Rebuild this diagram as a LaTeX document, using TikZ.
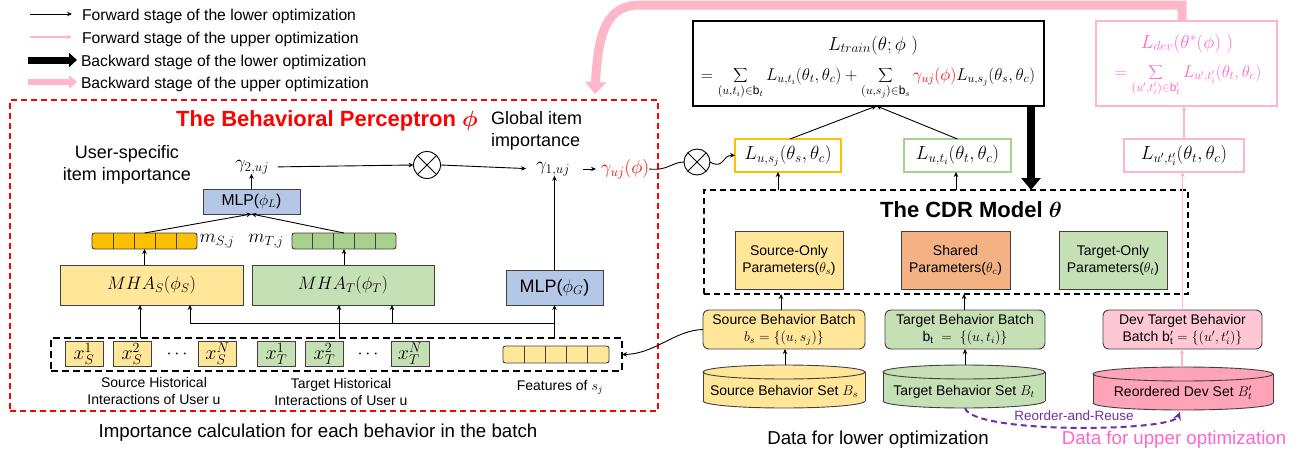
\RequirePackage{fix-cm}
\documentclass[tikz,border=0pt]{standalone}
\usepackage{fontspec}
\setmainfont{Liberation Sans}
\usetikzlibrary{arrows.meta,calc}
\definecolor{redc}{HTML}{FF0000}
\definecolor{gold}{HTML}{FFC000}
\definecolor{lyel}{HTML}{FFE699}
\definecolor{gbar}{HTML}{A9D18E}
\definecolor{lgrn}{HTML}{C5E0B4}
\definecolor{lblu}{HTML}{B4C7E7}
\definecolor{orng}{HTML}{F4B183}
\definecolor{pline}{HTML}{FFB6C8}
\definecolor{pfill}{HTML}{FFC7D4}
\definecolor{pcyl}{HTML}{FFA3B8}
\definecolor{ptext}{HTML}{FF66CC}
\definecolor{purp}{HTML}{7030A0}
\newcommand\mycyl[5]{%
  \pgfmathsetmacro\cx{(#1+#2)/2}\pgfmathsetmacro\rx{(#2-#1)/2}%
  \fill[#5] (#1,#3+7) rectangle (#2,#4-7);
  \fill[#5] (\cx,#4-7) ellipse [x radius=\rx pt, y radius=7pt];
  \begin{scope}\clip (#1-3,#4-7) rectangle (#2+3,#4+3);
    \draw[cylline] (\cx,#4-7) ellipse [x radius=\rx pt, y radius=7pt];
  \end{scope}
  \draw[cylline] (#1,#3+7) -- (#1,#4-7) (#2,#3+7) -- (#2,#4-7);
  \filldraw[fill=#5, cylline] (\cx,#3+7) ellipse [x radius=\rx pt, y radius=7pt];
}
\begin{document}
\begin{tikzpicture}[x=1pt,y=-1pt,
  every node/.style={inner sep=0pt, outer sep=0pt},
  fs13/.style={font=\fontsize{13.5}{15}\selectfont},
  fs14/.style={font=\fontsize{14}{17}\selectfont},
  fs15/.style={font=\fontsize{15.7}{18}\selectfont},
  fs17/.style={font=\fontsize{17}{20}\selectfont},
  fs18/.style={font=\fontsize{18}{22}\selectfont},
  fs185/.style={font=\fontsize{18.7}{22}\selectfont},
  fs19/.style={font=\fontsize{19}{22}\selectfont},
  ttl/.style={font=\fontsize{22}{26}\selectfont\bfseries},
  box/.style={draw=black!75, line width=0.9pt},
  cylline/.style={draw=black!75, line width=0.9pt},
  arr/.style={-{Stealth[length=5pt,width=4.5pt]}, line width=0.9pt},
  parr/.style={-{Stealth[length=5pt,width=4.5pt]}, line width=1.1pt, draw=pline},
  item/.style={box, minimum width=38pt, minimum height=25pt, font=\fontsize{20}{22}\selectfont},
  cellbar/.style={draw=black!75, line width=0.9pt, rounded corners=2.5pt},
]
\useasboundingbox (0,0) rectangle (1307,455);

% ---------------- legend ----------------
\coordinate (lg1a) at (30,14); \coordinate (lg1b) at (72,14);
\coordinate (lg2a) at (30,37); \coordinate (lg2b) at (72,37);
\coordinate (lg3a) at (28,60); \coordinate (lg3b) at (77,60);
\coordinate (lg4a) at (28,82); \coordinate (lg4b) at (77,82);
\draw[arr] (lg1a) -- (lg1b);
\draw[parr] (lg2a) -- (lg2b);
\draw[line width=7pt, -{Triangle[length=8pt,width=14pt]}] (lg3a) -- (lg3b);
\draw[line width=6pt, pline, -{Triangle[length=8pt,width=13pt]}] (lg4a) -- (lg4b);
\node[fs15, anchor=west] (lt1) at (82,16) {Forward stage of the lower optimization};
\node[fs15, anchor=west] (lt2) at (82,39) {Forward stage of the upper optimization};
\node[fs15, anchor=west] (lt3) at (81,62) {Backward stage of the lower optimization};
\node[fs15, anchor=west] (lt4) at (81,84) {Backward stage of the upper optimization};

% ---------------- behavioral perceptron ----------------
\node[draw=redc, line width=1.5pt, dash pattern=on 6pt off 4pt, minimum width=648pt, minimum height=311pt] (pbox) at (334,255.5) {};
\node[ttl, text=redc] (ptitle) at (327,121) {The Behavioral Perceptron {\boldmath$\phi$}};
\node[fs18, align=center] (usr) at (127,165) {User-specific\\item importance};
\node[fs18, align=left, anchor=west] (glob) at (491,131) {Global item\\importance};

\node[fs19] (g2) at (252,167) {$\gamma_{2,uj}$};
\node[circle, draw, line width=0.9pt, minimum size=27pt] (ot1) at (427,165) {};
\draw[line width=0.9pt] (ot1.north west) -- (ot1.south east) (ot1.north east) -- (ot1.south west);
\node[fs19] (g1) at (553,169) {$\gamma_{1,uj}$};
\node[fs19, text=redc] (guj) at (625,169) {$\gamma_{uj}(\phi)$};

\node[box, fill=lblu, minimum width=97pt, minimum height=25pt, fs15] (mlpl) at (251.5,201.5) {MLP($\phi_L$)};
\node[cellbar, fill=gold, minimum width=105pt, minimum height=16pt] (msbar) at (144.5,241) {};
\node[cellbar, fill=gbar, minimum width=104pt, minimum height=16pt] (mtbar) at (344,241) {};
\foreach \b in {msbar,mtbar}{
  \foreach \i in {1,...,4}{
    \draw[line width=0.9pt, black!75] ($(\b.north west)!\i/5!(\b.north east)$) -- ($(\b.south west)!\i/5!(\b.south east)$);
  }
}
\node[fs19] (msl) at (217,241) {$m_{S,j}$};
\node[fs19] (mtl) at (266,241) {$m_{T,j}$};

\node[box, fill=lyel, minimum width=183pt, minimum height=40pt, fs18] (mhas) at (151.5,285) {$MHA_S(\phi_S)$};
\node[box, fill=lgrn, minimum width=182pt, minimum height=40pt, fs18] (mhat) at (343,285) {$MHA_T(\phi_T)$};
\node[box, fill=lblu, minimum width=97pt, minimum height=35pt, fs18] (mlpg) at (554.5,287.5) {MLP($\phi_G$)};

% input
\node[draw, line width=1.5pt, dash pattern=on 7pt off 4pt, minimum width=571pt, minimum height=33pt] (inbox) at (336.5,354.5) {};
\node[item, fill=lyel] (xs1) at (84,354) {$x_S^1$};
\node[item, fill=lyel] (xs2) at (132,354) {$x_S^2$};
\node[fs18] (dots1) at (177,354) {$\cdots$};
\node[item, fill=lyel] (xsn) at (217.5,354) {$x_S^N$};
\node[item, fill=lgrn] (xt1) at (276.5,354) {$x_T^1$};
\node[item, fill=lgrn] (xt2) at (324.5,354) {$x_T^2$};
\node[fs18] (dots2) at (368,354) {$\cdots$};
\node[item, fill=lgrn] (xtn) at (410,354) {$x_T^N$};
\node[cellbar, fill=lyel, minimum width=106pt, minimum height=17pt] (feat) at (556,354.5) {};
\foreach \i in {1,...,4}{
  \draw[line width=0.9pt, black!75] ($(feat.north west)!\i/5!(feat.north east)$) -- ($(feat.south west)!\i/5!(feat.south east)$);
}
\node[fs14, align=center] (srclab) at (154,391) {Source Historical\\Interactions of User u};
\node[fs14, align=center] (tgtlab) at (341,392) {Target Historical\\Interactions of User u};
\node[fs14] (featlab) at (560,387) {Features of $s_j$};
\node[fs185] (imp) at (318,433) {Importance calculation for each behavior in the batch};

% left connectors
\draw[arr] (mlpl.north) -- (mlpl.north |- g2.south);
\draw[arr, shorten <=9pt] (g2.east) -- (ot1.west);
\draw[arr, shorten >=10pt] (ot1.east) -- (g1.west);
\draw[arr, shorten <=13pt, shorten >=5pt] (g1.east) -- (guj.west);
\draw[arr] (mlpg.north) -- (mlpg.north |- g1.south);
\draw[arr] (msbar.north) -- (mlpl.south);
\draw[arr] (mtbar.north) -- (mlpl.south);
\draw[arr] (msbar.south |- mhas.north) -- (msbar.south);
\draw[arr] (mtbar.south |- mhat.north) -- (mtbar.south);
\draw[arr] (140,0 |- inbox.north) -- (140,0 |- mhas.south);
\draw[arr] (339,0 |- inbox.north) -- (339,0 |- mhat.south);
\draw[arr] (inbox.north -| mlpg.south) -- (mlpg.south);
\coordinate (hl) at (190,323);
\coordinate (hr) at (392,323);
\draw[line width=0.9pt] (hl) -- (hl -| mlpg.south);
\draw[arr] (hl) -- (hl |- mhas.south);
\draw[arr] (hr) -- (hr |- mhat.south);

% ---------------- right side ----------------
\node[draw, line width=1.3pt, minimum width=351pt, minimum height=85pt] (ltrain) at (868.5,63.5) {};
\node[fs19, anchor=base] (lt1f) at (873,50) {$L_{train}(\theta;\phi\ )$};
\node[fs17, anchor=base] (lt2f) at (868,80) {$\displaystyle =\sum_{(u,t_i)\in \mathrm{b}_t} L_{u,t_i}(\theta_t,\theta_c)+\sum_{(u,s_j)\in \mathrm{b}_s}\textcolor{redc}{\gamma_{uj}(\phi)}L_{u,s_j}(\theta_s,\theta_c)$};

\node[draw=pline, line width=1.3pt, minimum width=181pt, minimum height=85pt] (ldev) at (1186.5,63.5) {};
\node[fs19, anchor=base, text=ptext] (ld1) at (1187,48) {$L_{dev}(\theta^*(\phi)\ )$};
\node[fs17, anchor=base, text=ptext] (ld2) at (1188,77) {$\displaystyle =\sum_{(u',t'_i)\in \mathrm{b}'_t} L_{u',t'_i}(\theta_t,\theta_c)$};

\node[draw=gold, line width=1.5pt, minimum width=106pt, minimum height=33pt, fs19] (lusj) at (788,155.5) {$L_{u,s_j}(\theta_s,\theta_c)$};
\node[draw=gbar, line width=1.5pt, minimum width=107pt, minimum height=33pt, fs19] (luti) at (957.5,155.5) {$L_{u,t_i}(\theta_t,\theta_c)$};
\node[draw=pline, line width=1.5pt, minimum width=120pt, minimum height=33pt, fs19] (lupt) at (1184,155.5) {$L_{u',t'_i}(\theta_t,\theta_c)$};

\node[circle, draw, line width=0.9pt, minimum size=26pt] (ot2) at (697,162) {};
\draw[line width=0.9pt] (ot2.north west) -- (ot2.south east) (ot2.north east) -- (ot2.south west);

\node[draw, line width=1.3pt, dash pattern=on 6pt off 4pt, minimum width=484pt, minimum height=104pt] (cdr) at (946,242) {};
\node[ttl] (cdrt) at (971,210) {The CDR Model {\boldmath$\theta$}};
\node[box, fill=lyel, minimum width=108pt, minimum height=58pt, fs14, align=center] (psrc) at (789,260) {Source-Only\\Parameters($\theta_s$)};
\node[box, fill=orng, minimum width=109pt, minimum height=58pt, fs14, align=center] (pshr) at (955.5,260) {Shared\\Parameters($\theta_c$)};
\node[box, fill=lgrn, minimum width=108pt, minimum height=58pt, fs14, align=center] (ptgt) at (1113,260) {Target-Only\\Parameters($\theta_t$)};

\node[box, rounded corners=6pt, fill=lyel, minimum width=162pt, minimum height=39pt, fs14, align=center] (bsrc) at (784,329.5) {Source Behavior Batch\\$b_s=\{(u,s_j)\}$};
\node[box, rounded corners=6pt, fill=lgrn, minimum width=160pt, minimum height=39pt, fs14, align=center] (btgt) at (965,329.5) {Target Behavior Batch\\$\mathrm{b_t}\ =\ \{(u,t_i)\}$};
\node[box, rounded corners=6pt, fill=pfill, minimum width=159pt, minimum height=39pt, fs14, align=center] (bdev) at (1182.5,329.5) {Dev Target Behavior\\Batch $\mathrm{b}'_{\mathrm{t}}=\{(u',t'_i)\}$};

\mycyl{703}{865}{365}{408}{lyel}
\mycyl{883}{1045}{365}{408}{lgrn}
\mycyl{1093}{1273}{367}{410}{pcyl}
\node[fs14] (csrc) at (784,391) {Source Behavior Set $B_s$};
\node[fs14] (ctgt) at (964,392) {Target Behavior Set $B_t$};
\node[fs14] (cdev) at (1183,393) {Reordered Dev Set $B'_t$};
\coordinate (csrctop) at (785,365);
\coordinate (ctgttop) at (965,365);
\coordinate (cdevtop) at (1182,367);
\coordinate (ctgtbot) at (965,408);
\coordinate (cdevbot) at (1180,412);

\node[fs13, text=purp] (rr) at (1074,416) {Reorder-and-Reuse};
\node[fs185] (dlow) at (878,440) {Data for lower optimization};
\node[fs185, text=ptext] (dup) at (1174,440) {Data for upper optimization};

% right connectors
\draw[arr] (csrctop) -- (csrctop |- bsrc.south);
\draw[arr] (ctgttop) -- (ctgttop |- btgt.south);
\draw[parr] (cdevtop) -- (cdevtop |- bdev.south);
\draw[arr] ([xshift=-3pt]bsrc.north) -- ([xshift=-3pt]bsrc.north |- cdr.south);
\draw[arr] ([xshift=-1pt]btgt.north) -- ([xshift=-1pt]btgt.north |- cdr.south);
\draw[parr] (bdev.north) -- (bdev.north |- lupt.south);
\draw[parr] (lupt.north) -- (lupt.north |- ldev.south);
\draw[arr] ([xshift=-10pt]lusj.south |- cdr.north) -- ([xshift=-10pt]lusj.south);
\draw[arr] ([xshift=-1.5pt]luti.south |- cdr.north) -- ([xshift=-1.5pt]luti.south);
\draw[arr] ([xshift=2pt]lusj.north) -- ([xshift=8pt]ltrain.south);
\draw[arr] (luti.north) -- ([xshift=8pt]ltrain.south);
\coordinate (bk) at ([xshift=162.5pt]ltrain.south);
\draw[line width=8pt, -{Triangle[length=12pt,width=19pt]}] (bk) -- (bk |- cdr.north);
\draw[purp, line width=2pt, dash pattern=on 6pt off 4pt, -{Stealth[length=8pt,width=8pt]}] (ctgtbot) .. controls (972,434) and (1172,432) .. (cdevbot);
\draw[arr] (bsrc.west) .. controls (675,330) and (655,354) .. (inbox.east);
\draw[line width=0.9pt] (guj.east) .. controls (668,171) and (672,162) .. (ot2.west);
\draw[arr] (ot2.east) .. controls (724,170) and (722,155) .. (lusj.west);
\coordinate (ptip) at (595,94);
\draw[pline, line width=9pt, line join=miter, -{Triangle[length=12pt,width=21pt]}] ([xshift=-4.5pt]ldev.north) |- (640,5) .. controls (608,5) and (598,30) .. (ptip);
\end{tikzpicture}
\end{document}
